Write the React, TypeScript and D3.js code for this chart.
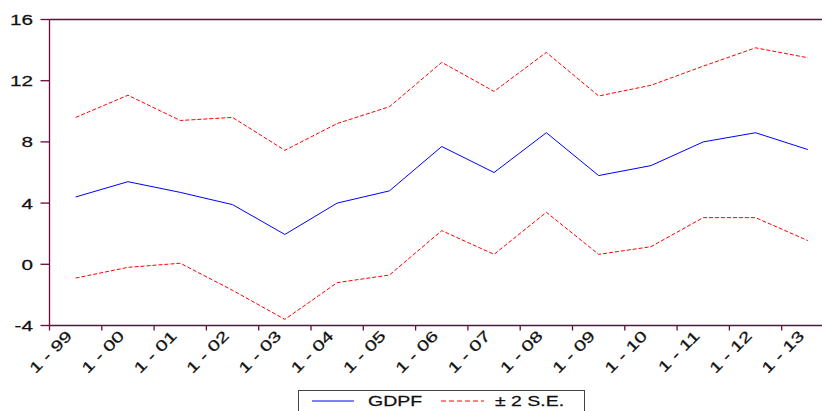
import React from "react";
import * as d3 from "d3";

const years = ["1-99","1-00","1-01","1-02","1-03","1-04","1-05","1-06","1-07","1-08","1-09","1-10","1-11","1-12","1-13"];
const gdpf = [4.4, 5.4, 4.7, 3.9, 1.95, 4.0, 4.8, 7.7, 6.0, 8.6, 5.8, 6.45, 8.0, 8.6, 7.5];
const upper = [9.6, 11.05, 9.4, 9.6, 7.45, 9.2, 10.3, 13.2, 11.3, 13.85, 11.0, 11.7, 12.95, 14.15, 13.5];
const lower = [-0.9, -0.2, 0.07, -1.7, -3.6, -1.2, -0.7, 2.2, 0.65, 3.4, 0.65, 1.15, 3.05, 3.05, 1.55];
const yTicks = [-4, 0, 4, 8, 12, 16];

const W = 822, H = 411;
const left = 49.5, top = 19.5, bottom = 325.5;
const step = 52.3;
const axisColor = "#6b0a3a";
const font = "'Liberation Sans', Arial, sans-serif";
const sx = 1.38;

export default function App() {
  const x = d3.scaleLinear().domain([0, 15]).range([left, left + 15 * step]);
  const y = d3.scaleLinear().domain([-4, 16]).range([bottom, top]);
  const line = d3.line<number>().x((_, i) => x(i + 0.5)).y(d => y(d));
  return (
    <svg width={W} height={H} style={{ position: "absolute", left: 0, top: 0, background: "#fff" }}>
      <path d={line(upper)!} fill="none" stroke="#ff0000" strokeWidth={1} strokeDasharray="4,2" />
      <path d={line(lower)!} fill="none" stroke="#ff0000" strokeWidth={1} strokeDasharray="4,2" />
      <path d={line(gdpf)!} fill="none" stroke="#0000ff" strokeWidth={1} />
      <line x1={left} x2={W} y1={top} y2={top} stroke={axisColor} strokeWidth={1.3} />
      <line x1={left} x2={W} y1={bottom} y2={bottom} stroke={axisColor} strokeWidth={1.3} />
      <line x1={left} x2={left} y1={top} y2={bottom} stroke={axisColor} strokeWidth={1.3} />
      {yTicks.map(t => (
        <g key={t}>
          <line x1={left - 9} x2={left} y1={y(t)} y2={y(t)} stroke={axisColor} strokeWidth={1.3} />
          <text transform={`translate(33,${y(t)}) scale(${sx},1)`} dy="0.36em" textAnchor="end" fontFamily={font} fontSize={15} fill="#111" stroke="#111" strokeWidth={0.25}>{t}</text>
        </g>
      ))}
      {years.map((lab, i) => (
        <g key={lab}>
          <line x1={x(i)} x2={x(i)} y1={bottom} y2={bottom + 5} stroke={axisColor} strokeWidth={1.3} />
          <text transform={`translate(${x(i) + 16},${bottom + 4}) rotate(-45) scale(${sx},1)`} textAnchor="end" dy="0.7em" fontFamily={font} fontSize={15} fill="#111" stroke="#111" strokeWidth={0.25}>{lab.replace("-", " - ")}</text>
        </g>
      ))}
      <rect x={298.5} y={390.5} width={286} height={30} fill="#fff" stroke="#444" strokeWidth={1} />
      <line x1={312} x2={354} y1={401} y2={401} stroke="#0000ff" strokeWidth={1} />
      <text transform={`translate(368,401) scale(1.3,1)`} dy="0.36em" fontFamily={font} fontSize={15} fill="#111" stroke="#111" strokeWidth={0.25}>GDPF</text>
      <line x1={441} x2={484} y1={401} y2={401} stroke="#ff0000" strokeWidth={1} strokeDasharray="5,3" />
      <text transform={`translate(495,401) scale(1.3,1)`} dy="0.36em" fontFamily={font} fontSize={15} fill="#111" stroke="#111" strokeWidth={0.25}>± 2 S.E.</text>
    </svg>
  );
}
